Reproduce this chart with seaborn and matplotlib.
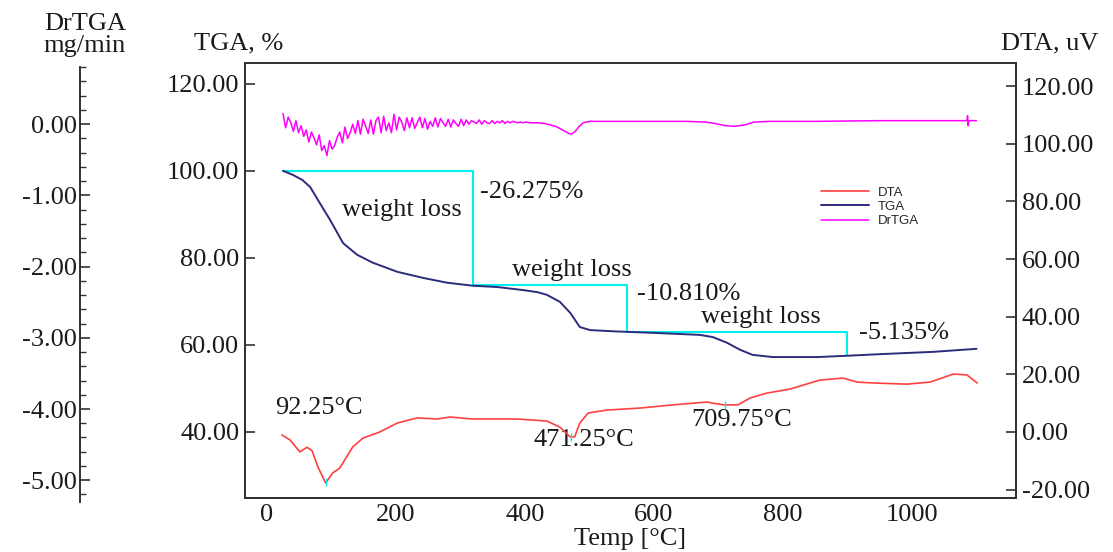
import numpy as np
import matplotlib
matplotlib.use("Agg")
import matplotlib.pyplot as plt
from matplotlib.ticker import MultipleLocator, FormatStrFormatter
import seaborn as sns

# TGA curve, weight % vs temperature
tga_temp = [25, 40, 55, 67, 82, 98, 118, 140, 164, 202, 242, 279, 319, 357, 397, 420, 434,
            454, 470, 485, 501, 540, 594, 671, 691, 713, 733, 753, 784, 853, 899, 955, 1033, 1100]
tga_val = [100.0, 99.1, 97.9, 96.3, 92.6, 88.7, 83.4, 80.7, 78.9, 76.8, 75.4, 74.3, 73.6, 73.3,
           72.6, 72.1, 71.5, 69.9, 67.4, 64.1, 63.4, 63.1, 62.8, 62.3, 61.8, 60.5, 58.9, 57.7,
           57.2, 57.2, 57.5, 57.9, 58.4, 59.1]

# DTA curve, uV
dta_temp = [23, 36, 51, 62, 70, 79, 91, 102, 113, 133, 149, 175, 202, 233, 264, 284, 319, 388,
            434, 454, 470, 477, 485, 498, 527, 578, 629, 682, 691, 709, 730, 749, 775, 811, 857,
            893, 915, 940, 992, 1028, 1064, 1085, 1101]
dta_val = [-1.0, -2.8, -6.9, -5.3, -6.5, -12.1, -17.7, -14.2, -12.5, -5.2, -2.1, 0.0, 3.1, 4.9,
           4.5, 5.2, 4.5, 4.5, 3.8, 1.7, -1.7, -1.7, 3.1, 6.6, 7.6, 8.3, 9.4, 10.4, 10.0, 9.4,
           9.4, 11.8, 13.5, 14.9, 18.0, 18.7, 17.3, 17.0, 16.6, 17.3, 20.1, 19.8, 17.0]

# DrTGA, mg/min: noisy part read every 4 degC from 25 to 401, then the smooth tail
drtga_noisy = [0.15, -0.05, 0.10, 0.02, -0.10, 0.05, -0.12, -0.02, -0.17, -0.08,
               -0.25, -0.11, -0.19, -0.29, -0.15, -0.37, -0.30, -0.44, -0.23, -0.35,
               -0.30, -0.18, -0.11, -0.26, -0.04, -0.20, -0.12, 0.00, -0.13, 0.05,
               -0.14, 0.07, -0.03, -0.13, 0.06, -0.14, 0.05, 0.10, -0.12, 0.11,
               -0.09, 0.02, -0.12, 0.14, -0.08, 0.10, 0.03, -0.09, 0.09, -0.05,
               0.09, -0.06, 0.02, 0.10, -0.05, 0.08, -0.07, 0.04, -0.03, 0.09,
               -0.04, 0.08, 0.02, -0.03, 0.07, -0.04, 0.06, 0.01, -0.03, 0.07,
               -0.02, 0.06, 0.00, 0.05, 0.03, 0.01, 0.06, 0.00, 0.05, 0.02,
               0.01, 0.05, 0.01, 0.04, 0.02, 0.05, 0.01, 0.04, 0.02, 0.04,
               0.03, 0.02, 0.03, 0.02, 0.03]
drtga_tail_temp = [410, 420, 430, 440, 450, 460, 468, 472, 478, 484, 490, 500, 550, 600, 650,
                   680, 695, 710, 725, 740, 755, 780, 850, 950, 1050, 1085, 1086, 1087, 1088, 1100]
drtga_tail_val = [0.02, 0.02, 0.01, -0.01, -0.04, -0.09, -0.13, -0.14, -0.10, -0.03, 0.02, 0.04,
                  0.04, 0.04, 0.04, 0.03, 0.01, -0.02, -0.03, -0.01, 0.03, 0.04, 0.04, 0.05,
                  0.05, 0.05, 0.12, -0.02, 0.05, 0.05]
drtga_temp = list(range(25, 402, 4)) + drtga_tail_temp
drtga_val = drtga_noisy + drtga_tail_val

# weight-loss steps and DTA peaks
step_temp = [25, 319, 558, 899]
loss_pct = [26.275, 10.810, 5.135]
peak_temp = [92.25, 471.25, 709.75]

sns.set_style("white")
plt.rcParams["font.family"] = ["Liberation Serif", "DejaVu Serif"]
plt.rcParams["font.size"] = 19
ink = "#1a1a1a"
fs = 19

fig = plt.figure(figsize=(11.13, 5.52), dpi=100)
ax = fig.add_axes([0.2201, 0.0978, 0.6927, 0.7881])
ax2 = ax.twinx()
ax3 = ax.twinx()

red = "#ff4040"
navy = "#2c2c7c"
magenta = "#ff00ff"
cyan = "#00f0f0"

sns.lineplot(x=dta_temp, y=dta_val, ax=ax2, color=red, lw=1.2, label="DTA", legend=False)
sns.lineplot(x=tga_temp, y=tga_val, ax=ax, color=navy, lw=1.4, label="TGA", legend=False)
sns.lineplot(x=drtga_temp, y=drtga_val, ax=ax3, color=magenta, lw=1.1, label="DrTGA",
             legend=False, sort=False, estimator=None)

# cyan step lines for weight losses
levels = [100.0]
for p in loss_pct:
    levels.append(levels[-1] - p)
sx, sy = [step_temp[0]], [levels[0]]
for i in range(1, len(step_temp)):
    sx += [step_temp[i], step_temp[i]]
    sy += [levels[i - 1], levels[i]]
ax.plot(sx, sy, color=cyan, lw=1.5, zorder=1)

# peak markers
peak_y = np.interp(peak_temp, dta_temp, dta_val)
ax2.plot(peak_temp, peak_y, ls="none", marker="|", ms=6, color=cyan)

ax.set_xlim(-34, 1161)
ax.set_ylim(24.8, 124.8)
ax2.set_ylim(-22.9, 128)
ax3.set_ylim(-5.25, 0.86)

ax.set_xticks([0, 200, 400, 600, 800, 1000])
ax.set_yticks([40, 60, 80, 100, 120])
ax2.set_yticks([-20, 0, 20, 40, 60, 80, 100, 120])
ax3.set_yticks([0, -1, -2, -3, -4, -5])
ax3.yaxis.set_minor_locator(MultipleLocator(0.2))
for a in (ax, ax2, ax3):
    a.yaxis.set_major_formatter(FormatStrFormatter("%.2f"))
    a.set_xlabel("")
    a.set_ylabel("")

ax.tick_params(direction="in", length=7, width=1.2, colors="#333333", labelcolor=ink,
               labelsize=fs, pad=4, top=False, right=False)
ax2.tick_params(axis="y", direction="in", length=7, width=1.2, colors="#333333",
                labelcolor=ink, labelsize=fs, pad=4)
ax3.yaxis.set_ticks_position("left")
ax3.yaxis.set_label_position("left")
ax3.spines["left"].set_position(("axes", -0.214))
ax3.spines["left"].set_bounds(-5.3, 0.8)
for s in ("right", "top", "bottom"):
    ax3.spines[s].set_visible(False)
ax3.tick_params(axis="y", which="major", direction="in", length=7, width=1.2,
                colors="#333333", labelcolor=ink, labelsize=fs, pad=2)
ax3.tick_params(axis="y", which="minor", direction="in", length=4, width=1.0,
                colors="#333333", left=True)

for a in (ax, ax2):
    for s in a.spines.values():
        s.set_color("#333333")
        s.set_linewidth(1.4)
ax3.spines["left"].set_color("#333333")
ax3.spines["left"].set_linewidth(1.4)

ax.set_xlabel("Temp [°C]", fontsize=fs, color=ink, labelpad=2)

# annotations
txt = dict(fontsize=fs, color=ink)
ax.text(209, 91.0, "weight loss", ha="center", va="center", **txt)
ax.text(473, 77.2, "weight loss", ha="center", va="center", **txt)
ax.text(766, 66.4, "weight loss", ha="center", va="center", **txt)
ax.text(330, 95.2, f"-{loss_pct[0]:.3f}%", ha="left", va="center", **txt)
ax.text(573, 71.7, f"-{loss_pct[1]:.3f}%", ha="left", va="center", **txt)
ax.text(917, 62.8, f"-{loss_pct[2]:.3f}%", ha="left", va="center", **txt)
ax.text(13, 45.5, f"{peak_temp[0]:.2f}°C", ha="left", va="center", **txt)
ax.text(413, 38.2, f"{peak_temp[1]:.2f}°C", ha="left", va="center", **txt)
ax.text(657, 42.8, f"{peak_temp[2]:.2f}°C", ha="left", va="center", **txt)

# axis titles
fig.text(239 / 1113, 1 - 43 / 552, "TGA, %", ha="center", va="center", **txt)
fig.text(1050 / 1113, 1 - 43 / 552, "DTA, uV", ha="center", va="center", **txt)
fig.text(85 / 1113, 1 - 35 / 552, "DrTGA\nmg/min", ha="center", va="center",
         linespacing=0.95, **txt)

handles = ax2.get_lines()[:1] + ax.get_lines()[:1] + ax3.get_lines()[:1]
leg = ax3.legend(handles, ["DTA", "TGA", "DrTGA"], loc="upper left",
                 bbox_to_anchor=(0.739, 0.731), frameon=False, borderpad=0,
                 handlelength=3.6, handletextpad=0.7, labelspacing=0.15,
                 prop={"family": "Liberation Sans", "size": 9.5})

fig.savefig("out.png", dpi=100)
